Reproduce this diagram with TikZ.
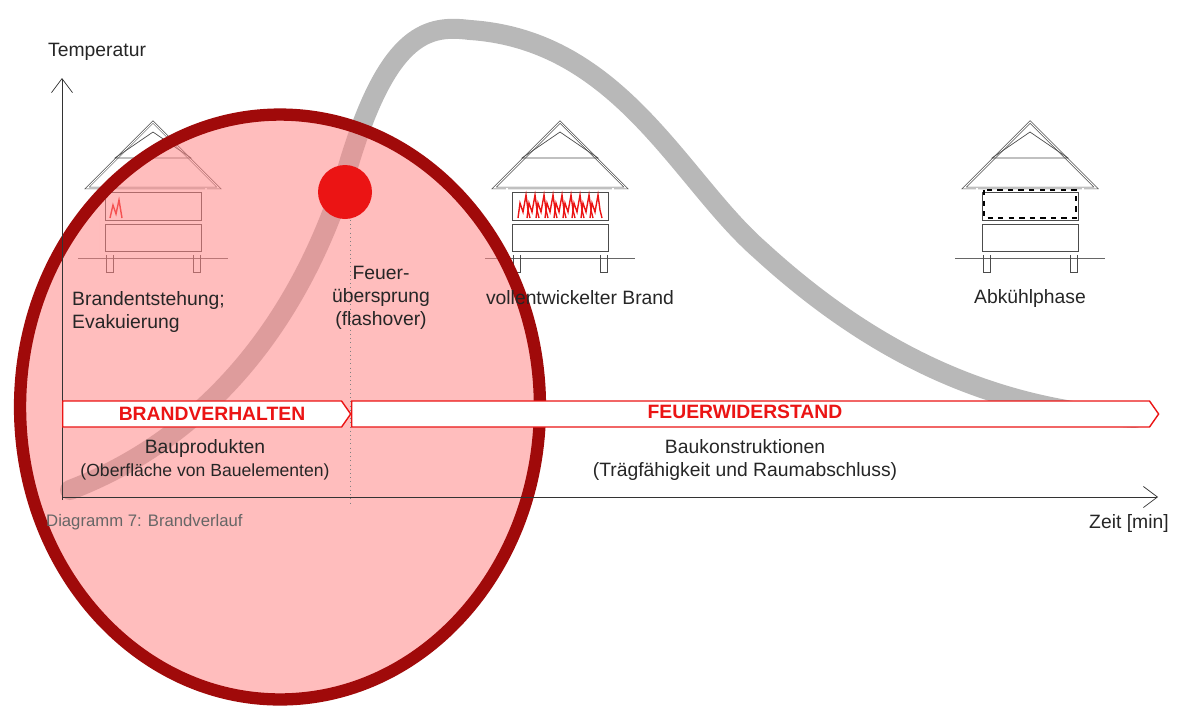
\documentclass[tikz,border=0pt]{standalone}
\usepackage{fontspec}
\setmainfont{Liberation Sans}
\usetikzlibrary{arrows.meta,positioning,shapes.arrows,shapes.geometric,calc}
\definecolor{firered}{RGB}{235,20,20}
\definecolor{darkred}{RGB}{160,10,10}
\begin{document}
\begin{tikzpicture}[x=0.02cm,y=-0.02cm,
    axis/.style={-{Straight Barb[length=8pt,width=12pt]},black!80,thin},
    lbl/.style={font=\fontsize{11}{13}\selectfont,align=center,text=black!85},
    band/.style={draw=firered,thick,fill=white,single arrow,single arrow head extend=0pt,
      single arrow tip angle=110,minimum height=#1,minimum width=0.52cm,inner sep=0pt,anchor=west},
    bandtext/.style={font=\fontsize{11}{13}\selectfont\bfseries,text=firered},
    housepic/.pic={
      \draw[double,black!70] (-66,66) -- (0,0) -- (66,66) -- cycle;
      \draw[black!70] (-38,36) -- (0,10) -- (38,36) -- cycle;
      \draw[double,black!70] (-53,66) -- (-53,133) -- (53,133) -- (53,66);
      \draw[black!70] (-48,70) rectangle (48,98) (-48,102) rectangle (48,129);
      \draw[black!60] (-75,136) -- (75,136);
      \draw[black!70] (-47,133) -- (-47,150) -- (-40,150) -- (-40,133)
                      (47,133) -- (47,150) -- (40,150) -- (40,133);
    }]
  \useasboundingbox (0,0) rectangle (1202,721);
  % houses
  \pic at (153,122) {housepic};
  \pic at (560,122) {housepic};
  \pic at (1030,122) {housepic};
  % flames
  \draw[firered,thick] (110,218) -- (113,205) -- (116,214) -- (119,200) -- (122,218);
  \foreach \i in {0,...,8}
    \draw[firered,thick] (518+\i*9,218) -- (520+\i*9,203) -- (523+\i*9,212) -- (526+\i*9,195) -- (528+\i*9,210) -- (530+\i*9,218);
  \draw[black,very thick,dashed] (984,190) rectangle (1076,218);
  % fire curve
  \draw[gray!70,opacity=.8,line width=0.4cm,line cap=round]
    (70,490) .. controls (200,440) and (300,330) .. (350,160)
    .. controls (390,30) and (430,25) .. (470,30)
    .. controls (620,40) and (680,180) .. (760,250)
    .. controls (880,360) and (1000,410) .. (1135,418);
  % big circle
  \node[draw=darkred,line width=7pt,fill=red!30!pink,fill opacity=.55,ellipse,
    minimum width=10.4cm,minimum height=11.7cm] (focus) at (280,407) {};
  \node[circle,fill=firered,minimum size=1.08cm,inner sep=0pt] (flash) at (345,192) {};
  \draw[dotted,gray] (350,220) -- (350,505);
  % axes
  \coordinate (o) at (62,497);
  \draw[axis] (o) ++(0,3) -- (62,78);
  \draw[axis] (o) -- (1158,497);
  \node[lbl,anchor=west] (temp) at (42,52) {Temperatur};
  \node[lbl,anchor=west] (zeit) at (1083,523) {Zeit [min]};
  \node[lbl,anchor=west,text=black!60,font=\fontsize{9.5}{11}\selectfont] (cap) at (40,522) {Diagramm 7: Brandverlauf};
  % phase labels
  \node[lbl,align=left,anchor=west] (start) at (66,312) {Brandentstehung;\\Evakuierung};
  \node[lbl] (fo) at (381,298) {Feuer-\\übersprung\\(flashover)};
  \node[lbl] (voll) at (580,298) {vollentwickelter Brand};
  \node[lbl] (cool) at (1030,298) {Abkühlphase};
  % bands
  \node[band=5.76cm] (bv) at (62,414) {};
  \node[bandtext] at (212,414) {BRANDVERHALTEN};
  \node[band=16.14cm] (fw) at (351,414) {};
  \node[bandtext] at (745,412) {FEUERWIDERSTAND};
  \node[lbl] (bp) at (205,460) {Bauprodukten\\\fontsize{10}{13}\selectfont(Oberfläche von Bauelementen)};
  \node[lbl] (bk) at (745,460) {Baukonstruktionen\\(Trägfähigkeit und Raumabschluss)};
\end{tikzpicture}
\end{document}
